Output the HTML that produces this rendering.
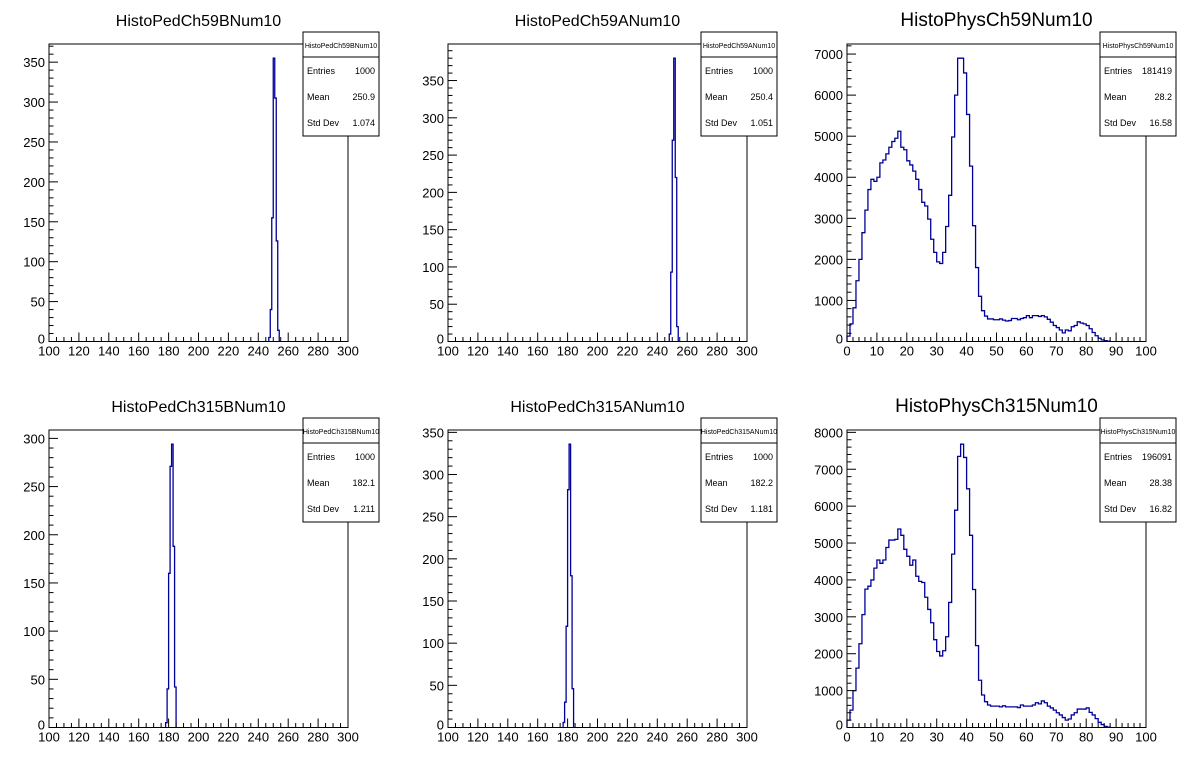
<!DOCTYPE html>
<html><head><meta charset="utf-8">
<style>
html,body{margin:0;padding:0;background:#fff;}
svg{display:block;font-family:"Liberation Sans",Arial,sans-serif;}
</style></head>
<body>
<svg id="c" width="1196" height="772" viewBox="0 0 1196 772"></svg>
<script>
// ---- data ----
const ped59BStart = 247;
const ped59BValues = [5, 40, 155, 355, 305, 126, 14];
const ped59AStart = 248;
const ped59AValues = [10, 93, 270, 380, 220, 20];
const ped315BStart = 178;
const ped315BValues = [5, 40, 160, 271, 294, 188, 42];
const ped315AStart = 177;
const ped315AValues = [6, 30, 120, 282, 336, 180, 46];
const phys59Values = [130,430,820,1480,2000,2650,3200,3700,3950,3900,4000,4350,4420,4570,4730,4870,4950,5120,4730,4670,4400,4300,4150,3950,3700,3390,3300,2980,2490,2170,1940,1900,2170,2800,3560,4980,6000,6900,6900,6540,5530,4270,2820,1800,1100,750,620,550,550,530,530,550,520,500,510,560,560,530,560,580,630,580,630,630,610,630,600,540,470,390,340,280,210,280,260,360,390,480,450,430,390,310,220,140,80,40,20,10];
const phys315Values = [200,470,1000,1610,2270,3060,3750,3830,4000,4320,4540,4450,4540,4880,5080,5080,5100,5380,5210,4830,4640,4400,4540,4100,3960,3930,3530,3200,2840,2380,2060,1940,2080,2460,3390,4700,5890,7350,7680,7320,6470,5210,3740,2220,1280,880,700,610,580,580,580,560,590,560,560,560,560,540,610,580,580,580,610,670,640,720,670,580,530,470,400,340,270,200,230,340,400,500,500,500,530,410,340,240,140,80,30,10];
const titles = ["HistoPedCh59BNum10","HistoPedCh59ANum10","HistoPhysCh59Num10","HistoPedCh315BNum10","HistoPedCh315ANum10","HistoPhysCh315Num10"];
const statEntries = ["1000","1000","181419","1000","1000","196091"];
const statMeans = ["250.9","250.4","28.2","182.1","182.2","28.38"];
const statStd = ["1.074","1.051","16.58","1.211","1.181","16.82"];
const pedXTicks = [100,120,140,160,180,200,220,240,260,280,300];
const physXTicks = [0,10,20,30,40,50,60,70,80,90,100];

const NS = "http://www.w3.org/2000/svg";
const svg = document.getElementById('c');
function mk(tag, attrs, parent){
  const e = document.createElementNS(NS, tag);
  for (const k in attrs) e.setAttribute(k, attrs[k]);
  (parent||svg).appendChild(e);
  return e;
}

const pads = [
  {start:ped59BStart, vals:ped59BValues, xmin:100, xmax:300, xt:pedXTicks, xminor:5, ymaj:50, ymin:10, col:0, row:0, big:false},
  {start:ped59AStart, vals:ped59AValues, xmin:100, xmax:300, xt:pedXTicks, xminor:5, ymaj:50, ymin:10, col:1, row:0, big:false},
  {start:0, vals:phys59Values, xmin:0, xmax:100, xt:physXTicks, xminor:2, ymaj:1000, ymin:200, col:2, row:0, big:true},
  {start:ped315BStart, vals:ped315BValues, xmin:100, xmax:300, xt:pedXTicks, xminor:5, ymaj:50, ymin:10, col:0, row:1, big:false},
  {start:ped315AStart, vals:ped315AValues, xmin:100, xmax:300, xt:pedXTicks, xminor:5, ymaj:50, ymin:10, col:1, row:1, big:false},
  {start:0, vals:phys315Values, xmin:0, xmax:100, xt:physXTicks, xminor:2, ymaj:1000, ymin:200, col:2, row:1, big:true}
];
const frameLefts = [49, 448, 847];
const frameW = 299;
const frameTops = [44, 430];
const frameH = 297.5;

pads.forEach((p, i) => {
  const g = mk('g', {});
  
  
  const L = frameLefts[p.col], T = frameTops[p.row], B = T + frameH, R = L + frameW;
  const ymax = Math.max(...p.vals) * 1.05;
  const xs = v => L + (v - p.xmin) / (p.xmax - p.xmin) * frameW;
  const ys = v => B - v / ymax * frameH;

  // title
  const t = mk('text', {x: L + frameW/2 + (p.big?0:0), y: p.row===0 ? 26 : 412, 'text-anchor':'middle', 'font-size': p.big ? 19 : 16, fill:'#000'}, g);
  t.textContent = titles[i];
  
  

  // frame
  const fr = mk('rect', {x:L, y:T, width:frameW, height:frameH, fill:'none', stroke:'#000', 'stroke-width':1}, g);
  
  

  // histogram path
  let d = 'M' + xs(p.start) + ',' + B;
  p.vals.forEach((v, k) => {
    const x0 = xs(p.start + k), x1 = xs(p.start + k + 1), y = ys(v);
    d += ' L' + x0 + ',' + y + ' L' + x1 + ',' + y;
  });
  d += ' L' + xs(p.start + p.vals.length) + ',' + B;
  const h = mk('path', {d:d, fill:'none', stroke:'#00009a', 'stroke-width':1.3}, g);
  
  

  // x ticks
  const xa = mk('g', {stroke:'#000', 'stroke-width':1}, g);
  
  
  for (let v = p.xmin; v <= p.xmax + 1e-9; v += p.xminor) {
    const major = p.xt.includes(v);
    mk('line', {x1:xs(v), x2:xs(v), y1:B, y2:B - (major ? 9 : 4.5)}, xa);
  }
  p.xt.forEach(v => {
    const tl = mk('text', {x:xs(v), y:B + 14, 'text-anchor':'middle', 'font-size':13, fill:'#000', stroke:'none'}, g);
    tl.textContent = v;
    
    
  });

  // y ticks
  const ya = mk('g', {stroke:'#000', 'stroke-width':1}, g);
  
  
  for (let v = 0; v <= ymax; v += p.ymin) {
    const major = Math.abs(v / p.ymaj - Math.round(v / p.ymaj)) < 1e-6;
    mk('line', {x1:L, x2:L + (major ? 9 : 4.5), y1:ys(v), y2:ys(v)}, ya);
  }
  for (let v = 0; v <= ymax; v += p.ymaj) {
    const tl = mk('text', {x:L - 4, y:ys(v) + (v===0 ? 2 : 5), 'text-anchor':'end', 'font-size':13, fill:'#000'}, g);
    tl.textContent = v;
    
    
  }

  // stats box
  const sb = mk('g', {}, g);
  
  
  const bx = [303, 701, 1100][p.col], bw = 76;
  const by = p.row === 0 ? 32 : 418, bh = 104;
  mk('rect', {x:bx, y:by, width:bw, height:bh, fill:'#fff', stroke:'#000', 'stroke-width':1}, sb);
  mk('line', {x1:bx, x2:bx + bw, y1:by + 25, y2:by + 25, stroke:'#000', 'stroke-width':1}, sb);
  const st = mk('text', {x:bx + bw/2, y:by + 16, 'text-anchor':'middle', 'font-size':7, fill:'#000'}, sb);
  st.textContent = titles[i];
  const rows = [["Entries", statEntries[i]], ["Mean", statMeans[i]], ["Std Dev", statStd[i]]];
  rows.forEach((r, k) => {
    const yy = by + 42 + k * 26;
    const a = mk('text', {x:bx + 4, y:yy, 'font-size':9, fill:'#000'}, sb);
    a.textContent = r[0];
    const b = mk('text', {x:bx + bw - 4, y:yy, 'text-anchor':'end', 'font-size':9, fill:'#000'}, sb);
    b.textContent = r[1];
  });
});
</script>
</body></html>
